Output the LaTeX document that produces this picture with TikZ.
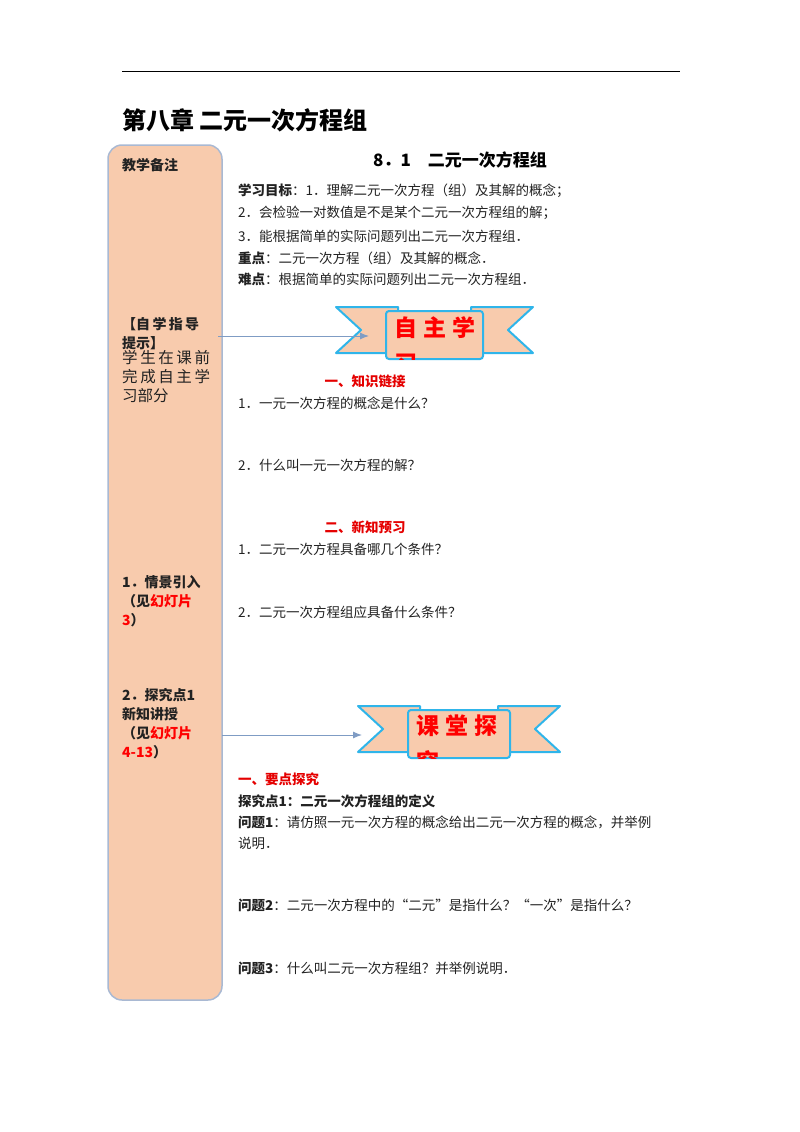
\documentclass[tikz,border=0pt]{standalone}
\usepackage{fontspec}
\setmainfont{Noto Sans CJK SC}
\definecolor{peach}{HTML}{F8CBAD}
\definecolor{rib}{HTML}{2FB5EA}
\definecolor{edge}{HTML}{A9B9D3}
\definecolor{arr}{HTML}{7F9CC4}
\definecolor{txt}{HTML}{222222}
\usetikzlibrary{arrows.meta}
\tikzset{
 body/.style={anchor=west,inner sep=0pt,font=\fontsize{13.5}{15}\selectfont,text=txt},
 bbody/.style={body,font=\fontsize{13.5}{15}\selectfont\bfseries},
 side/.style={anchor=north west,inner sep=0pt,align=left,font=\fontsize{14}{19}\selectfont\bfseries,text=txt},
 redt/.style={text=red!90!black},
 ribbon/.style={fill=peach,draw=rib,line width=2pt,line join=round},
 link/.style={draw=arr,line width=1pt,-{Latex[length=9pt,width=7pt]}}
}
\newcommand{\banner}[4]{% x0 y0 x1 text
 \path[ribbon] (#1,#2+2) -- (#1+62,#2+2) -- (#1+62,#2+48) -- (#1,#2+48) -- (#1+25,#2+25) -- cycle;
 \path[ribbon] (#3,#2+2) -- (#3-62,#2+2) -- (#3-62,#2+48) -- (#3,#2+48) -- (#3-25,#2+25) -- cycle;
 \path[ribbon,rounded corners=3pt] (#1+50,#2+6) rectangle (#3-50,#2+54);
 \begin{scope}
 \clip (#1+50,#2+6) rectangle (#3-50,#2+54);
 \node[anchor=north west,inner sep=0pt,align=left,font=\fontsize{23}{36}\selectfont\bfseries,text=red] at (#1+58,#2+11) {#4};
 \end{scope}}
\begin{document}
\begin{tikzpicture}[x=1pt,y=-1pt]
\useasboundingbox[fill=white] (0,0) rectangle (800,1132);
\draw[line width=1pt] (122,72) -- (680,72);
\node[anchor=west,inner sep=0pt,font=\fontsize{24}{26}\selectfont\bfseries] (title) at (122,120) {第八章\ 二元一次方程组};
\draw[fill=peach,draw=edge,line width=1.5pt,rounded corners=14pt] (108,145) rectangle (222,1000);
\node[side] (n0) at (122,158) {教学备注};
\node[side] (n1) at (122,317) {【自\,学\,指\,导\\提示】};
\node[anchor=north west,inner sep=0pt,align=left,font=\fontsize{15.5}{19}\selectfont,text=txt] (n1b) at (122,350) {学\,生\,在\,课\,前\\完\,成\,自\,主\,学\\习部分};
\node[side] (n2) at (122,575) {1．情景引入\\（见\textcolor{red}{幻灯片}\\\textcolor{red}{3}）};
\node[side] (n3) at (122,688) {2．探究点1\\新知讲授\\（见\textcolor{red}{幻灯片}\\\textcolor{red}{4-13}）};
\node[anchor=center,inner sep=0pt,font=\fontsize{17}{19}\selectfont\bfseries] (h) at (460,160) {8．1\quad 二元一次方程组};
\node[body] (l1) at (238,191) {\textbf{学习目标}：1．理解二元一次方程（组）及其解的概念；};
\node[body] (l2) at (238,213) {2．会检验一对数值是不是某个二元一次方程组的解；};
\node[body] (l3) at (238,236) {3．能根据简单的实际问题列出二元一次方程组．};
\node[body] (l4) at (238,258) {\textbf{重点}：二元一次方程（组）及其解的概念．};
\node[body] (l5) at (238,279) {\textbf{难点}：根据简单的实际问题列出二元一次方程组．};
\banner{336}{305}{533}{自\hspace{6pt}主\hspace{6pt}学\\习}
\coordinate (a1) at (218,336);
\coordinate (b1) at (369,336);
\draw[link] (a1) -- (b1);
\node[bbody,redt,anchor=center] (k1) at (365,381) {一、知识链接};
\node[body] (q1) at (238,403) {1．一元一次方程的概念是什么？};
\node[body] (q2) at (238,465) {2．什么叫一元一次方程的解？};
\node[bbody,redt,anchor=center] (k2) at (365,527) {二、新知预习};
\node[body] (q3) at (238,549) {1．二元一次方程具备哪几个条件？};
\node[body] (q4) at (238,612) {2．二元一次方程组应具备什么条件？};
\banner{358}{704}{560}{课\hspace{6pt}堂\hspace{6pt}探\\究}
\coordinate (a2) at (222,735);
\coordinate (b2) at (362,735);
\draw[link] (a2) -- (b2);
\node[bbody,redt] (k3) at (238,779) {一、要点探究};
\node[bbody] (p0) at (238,801) {探究点1：二元一次方程组的定义};
\node[body] (p1) at (238,822) {\textbf{问题1}：请仿照一元一次方程的概念给出二元一次方程的概念，并举例};
\node[body] (p1b) at (238,843) {说明．};
\node[body] (p2) at (238,905) {\textbf{问题2}：二元一次方程中的“二元”是指什么？“一次”是指什么？};
\node[body] (p3) at (238,968) {\textbf{问题3}：什么叫二元一次方程组？并举例说明．};
\end{tikzpicture}
\end{document}
